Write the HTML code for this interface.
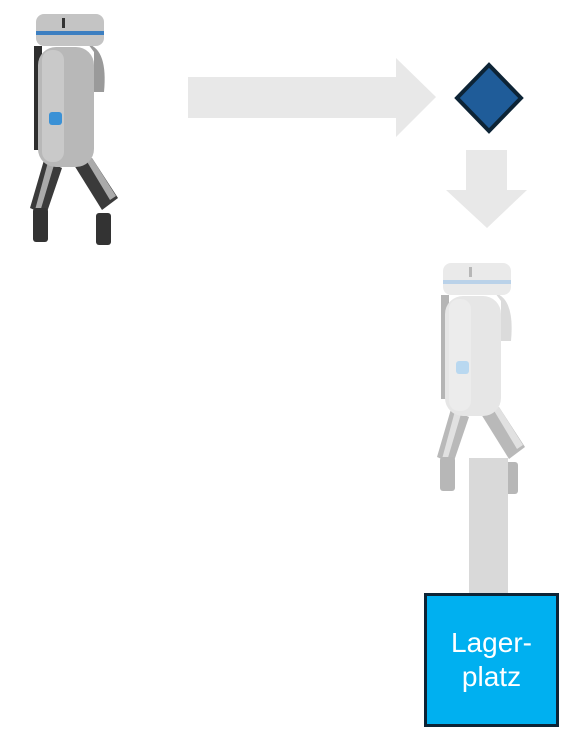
<!DOCTYPE html>
<html><head><style>
html,body{margin:0;padding:0;background:#fff;width:572px;height:733px;overflow:hidden}
.box{position:absolute;left:424px;top:593px;width:129px;height:128px;background:#00b0f0;border:3px solid #0d2436;color:#fff;font:28px "Liberation Sans",sans-serif;text-align:center;display:flex;align-items:center;justify-content:center;line-height:34px}
</style></head><body>
<svg width="572" height="733" style="position:absolute;left:0;top:0">
<defs>
<g id="grip">
  <polygon points="44,160 62,168 46,215 30,208" fill="#3a3a3a"/>
  <polygon points="48,162 54,165 40,212 35,210" fill="#aaa"/>
  <rect x="33" y="208" width="15" height="34" rx="3" fill="#333"/>
  <polygon points="74,165 92,158 118,198 102,210" fill="#3a3a3a"/>
  <polygon points="86,160 92,158 116,196 110,200" fill="#aaa"/>
  <rect x="96" y="213" width="15" height="32" rx="3" fill="#333"/>
  <path d="M88,44 Q108,50 104,92 L94,92 L94,52 Z" fill="#9a9a9a"/>
  <path d="M34,46 L42,46 L42,150 L34,150 Z" fill="#2e2e2e"/>
  <rect x="38" y="47" width="56" height="120" rx="18" fill="#b8b8b8"/>
  <rect x="42" y="50" width="22" height="112" rx="10" fill="#c9c9c9"/>
  <rect x="36" y="14" width="68" height="32" rx="8" fill="#c4c4c4"/>
  <rect x="36" y="31" width="68" height="4" fill="#3d7fc1"/>
  <rect x="62" y="18" width="3" height="10" fill="#333"/>
  <rect x="49" y="112" width="13" height="13" rx="3" fill="#3a91d6"/>
</g>
</defs>
<use href="#grip"/>
<g opacity="0.35" transform="translate(407,249)"><use href="#grip"/></g>
<polygon points="188,77 396,77 396,58 436,97 396,137 396,118 188,118" fill="#e8e8e8"/>
<polygon points="466,150 507,150 507,190 527,190 487,228 446,190 466,190" fill="#e8e8e8"/>
<polygon points="489,65 521,98 489,131 457,98" fill="#1f5c99" stroke="#0d2436" stroke-width="4" stroke-linejoin="miter"/>
<rect x="469" y="458" width="39" height="137" fill="#d9d9d9"/>
</svg>
<div class="box">Lager-<br>platz</div>
</body></html>
